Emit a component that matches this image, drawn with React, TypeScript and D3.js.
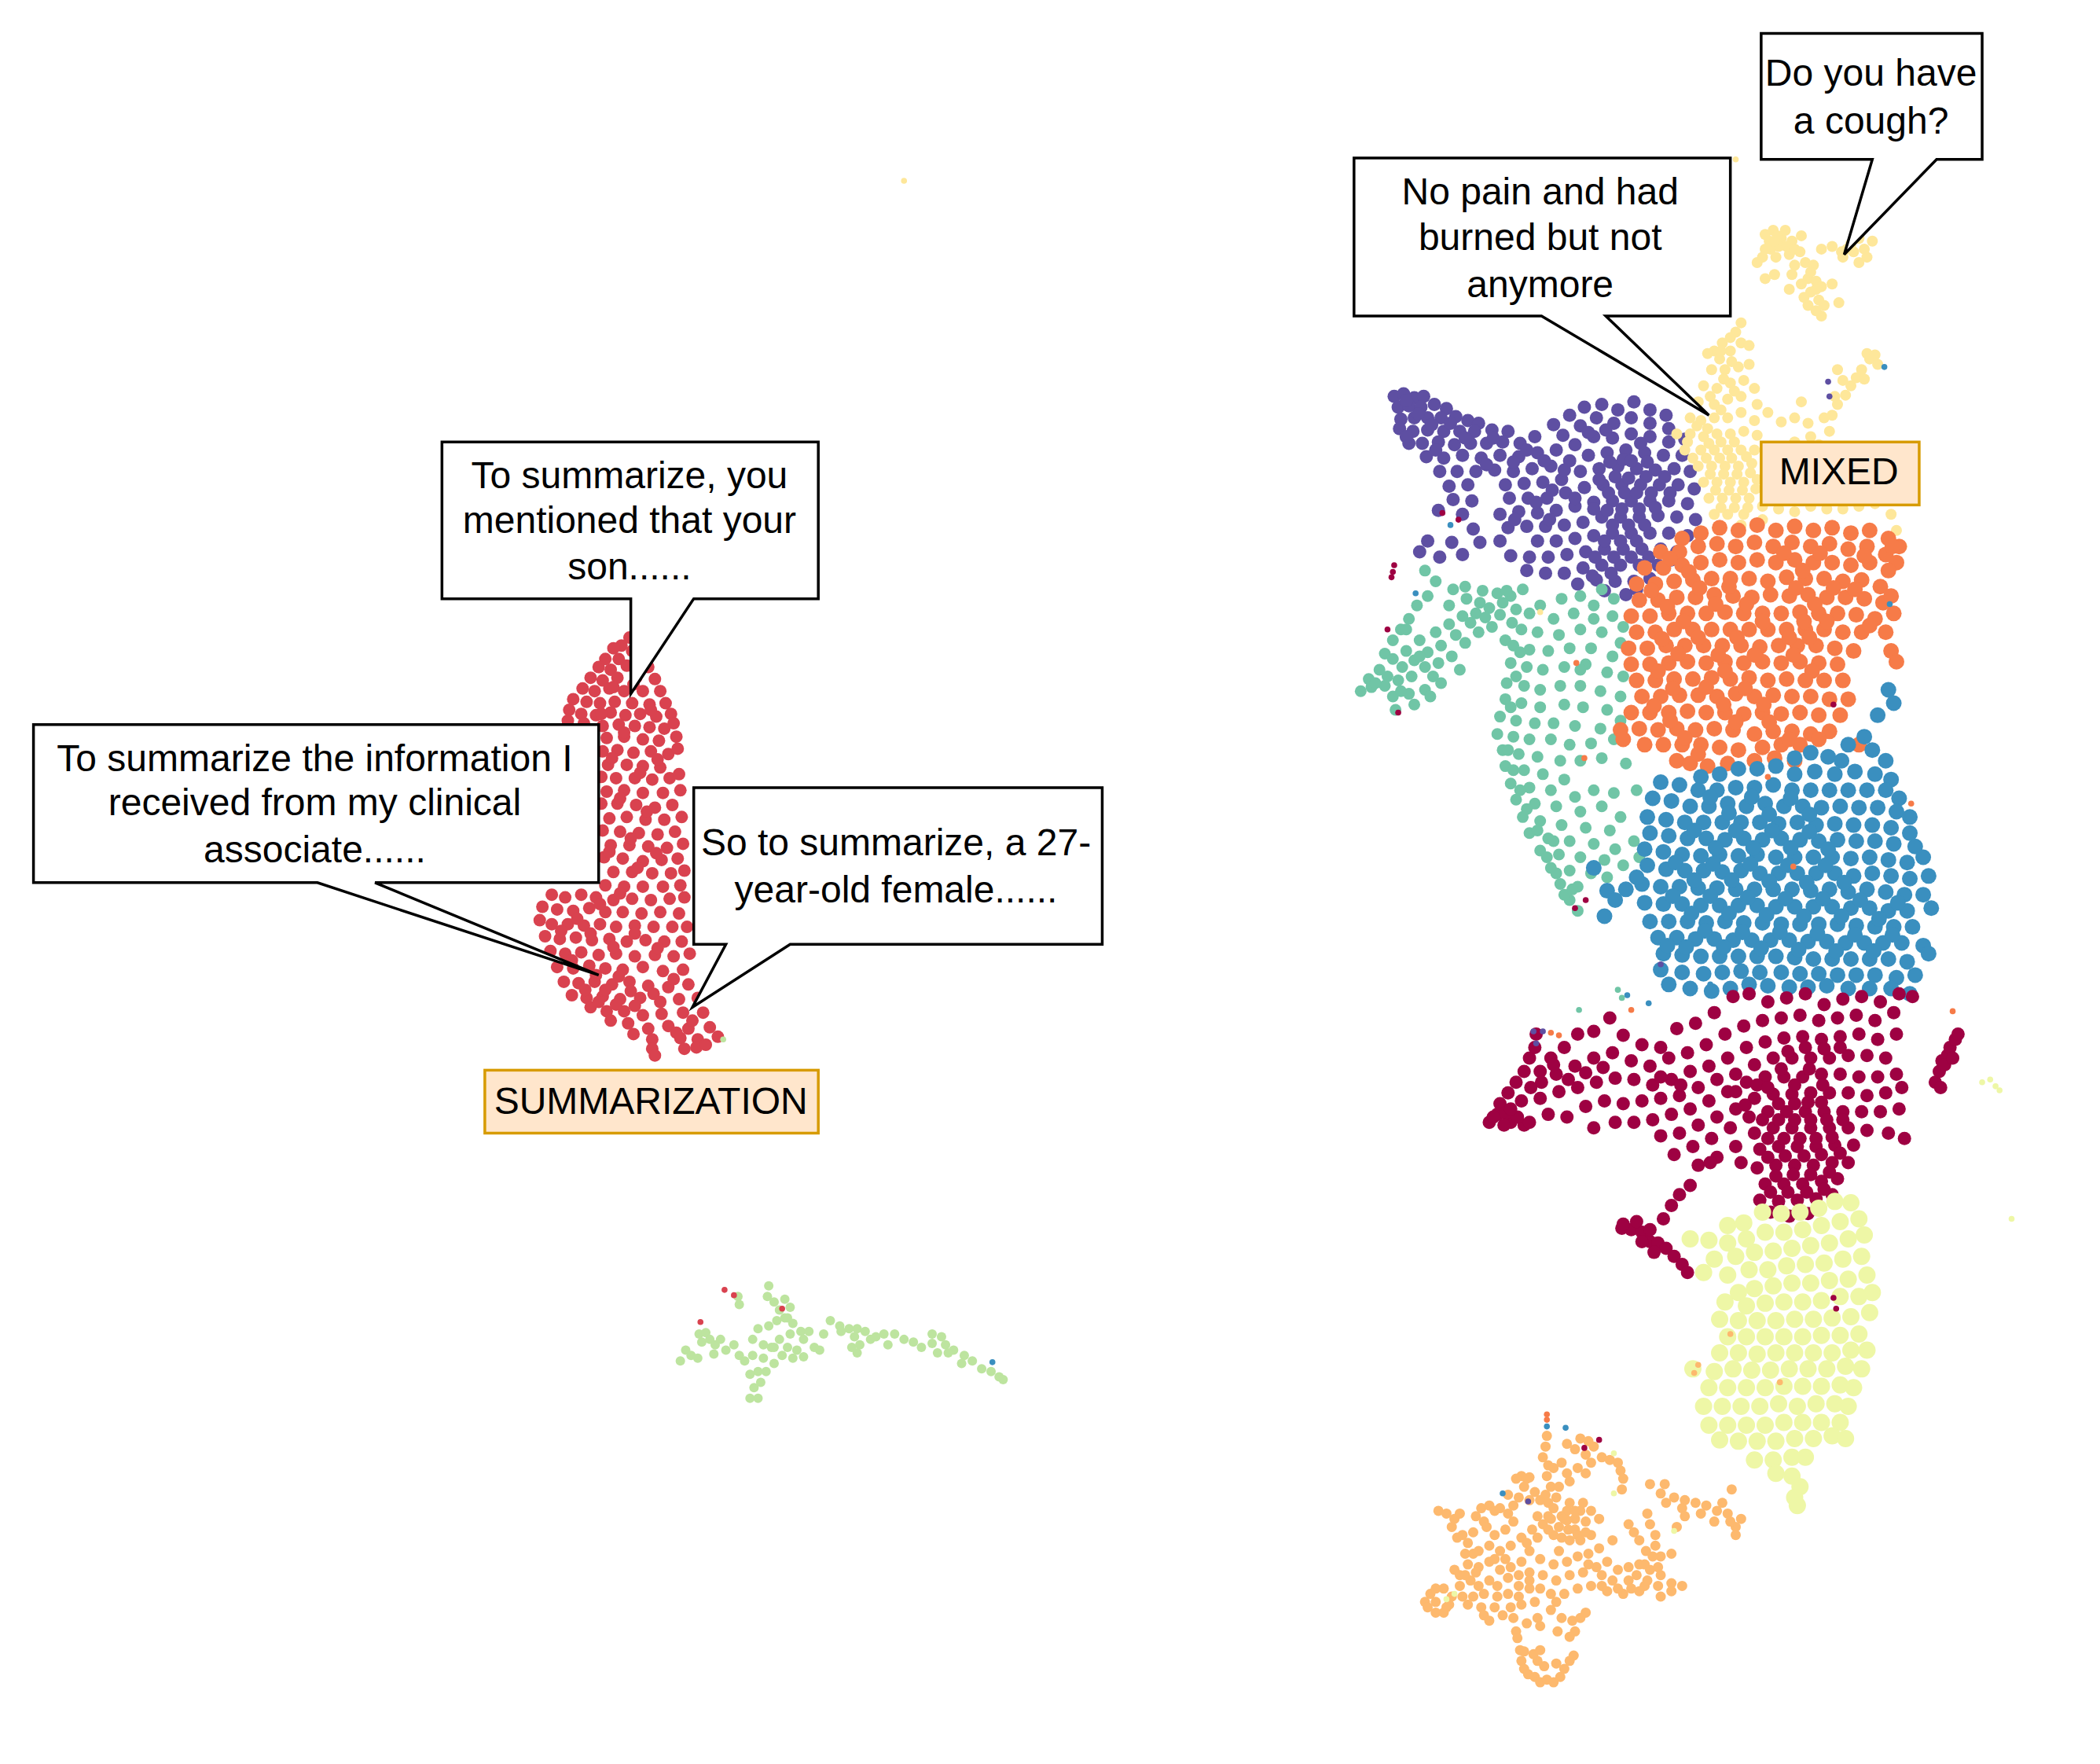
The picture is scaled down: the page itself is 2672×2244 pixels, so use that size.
import React from "react";
import * as d3 from "d3";

const W = 2672, H = 2244;
const REF_W = 1568, REF_H = 1317;

const redPoints = [[470,476],[464,482],[458,484],[472,486],[452,492],[462,492],[478,490],[447,498],[456,500],[468,497],[484,498],[441,506],[450,508],[461,506],[475,506],[489,507],[435,514],[444,516],[455,514],[466,516],[480,516],[493,516],[428,522],[438,524],[448,525],[459,524],[472,525],[485,526],[497,525],[425,530],[434,533],[445,534],[456,532],[467,534],[478,533],[490,535],[501,533],[424,538],[436,540],[450,542],[462,541],[474,542],[485,543],[496,544],[503,540],[453,551],[466,550],[480,552],[492,553],[505,550],[450,561],[461,560],[473,562],[486,561],[499,563],[506,559],[454,571],[468,571],[480,572],[493,573],[449,580],[460,581],[474,581],[487,582],[500,581],[507,578],[453,591],[466,590],[480,592],[495,592],[508,590],[449,600],[461,600],[475,601],[489,603],[502,601],[455,611],[468,610],[482,612],[496,612],[509,610],[450,620],[463,621],[477,622],[491,623],[504,621],[456,631],[470,631],[484,632],[498,633],[510,630],[451,640],[465,641],[480,643],[494,642],[506,641],[458,651],[472,651],[487,652],[501,652],[511,650],[452,661],[466,662],[480,662],[495,662],[508,661],[412,668],[422,670],[434,668],[445,670],[458,672],[472,671],[486,672],[500,671],[511,670],[405,677],[416,679],[428,680],[440,678],[452,681],[465,681],[479,682],[493,681],[507,682],[403,687],[412,690],[424,690],[436,691],[448,690],[460,692],[474,691],[488,692],[502,692],[513,692],[407,699],[418,701],[430,700],[442,702],[455,701],[468,703],[482,702],[496,703],[509,703],[411,710],[422,712],[434,711],[447,713],[460,712],[474,714],[489,713],[503,714],[515,712],[416,722],[428,723],[440,721],[452,723],[465,724],[480,722],[495,725],[510,724],[421,733],[432,734],[444,733],[457,735],[470,733],[484,736],[499,737],[514,735],[427,743],[438,745],[450,744],[463,746],[478,745],[493,748],[507,746],[521,745],[441,752],[453,755],[466,755],[480,758],[494,757],[510,756],[525,756],[456,762],[469,764],[484,768],[499,766],[514,768],[530,767],[473,772],[487,776],[508,775],[521,776],[536,774],[487,783],[489,788],[511,783],[520,782],[527,780]];
const redExtra = [[458,513],[449,533],[473,511],[486,530],[466,547],[457,566],[478,577],[491,567],[463,596],[483,606],[471,626],[455,636],[476,648],[490,637],[463,667],[448,675],[431,686],[419,695],[441,697],[458,707],[474,697],[491,708],[427,717],[445,728],[462,729],[437,739],[452,739],[471,740],[447,748],[460,750],[474,751],[488,742],[503,731],[517,762],[505,771]];
const purplePoints = [[1041,296],[1048,294],[1056,297],[1063,296],[1044,304],[1052,303],[1061,304],[1071,302],[1080,305],[1046,313],[1056,312],[1066,312],[1076,312],[1087,311],[1096,314],[1104,316],[1045,320],[1055,322],[1066,321],[1078,322],[1090,322],[1101,322],[1114,321],[1126,322],[1052,331],[1062,331],[1074,330],[1086,332],[1098,331],[1110,331],[1122,330],[1135,331],[1146,326],[1160,317],[1172,310],[1183,304],[1196,302],[1208,306],[1220,300],[1232,306],[1244,310],[1167,325],[1180,318],[1192,312],[1205,316],[1218,312],[1232,316],[1246,320],[1065,341],[1078,342],[1092,340],[1106,342],[1120,340],[1134,341],[1148,338],[1162,336],[1176,332],[1190,326],[1204,327],[1218,324],[1232,326],[1246,330],[1258,328],[1075,352],[1088,352],[1102,352],[1116,351],[1130,352],[1144,350],[1158,348],[1172,344],[1186,340],[1200,338],[1214,336],[1228,338],[1242,340],[1256,340],[1082,363],[1096,362],[1124,362],[1138,361],[1152,360],[1166,358],[1180,352],[1194,350],[1208,348],[1222,350],[1236,351],[1250,350],[1262,352],[1085,373],[1099,374],[1127,372],[1141,372],[1155,372],[1169,368],[1183,364],[1197,362],[1211,362],[1225,362],[1239,362],[1253,362],[1265,365],[1074,381],[1092,384],[1120,384],[1134,382],[1148,383],[1162,381],[1176,378],[1190,375],[1204,374],[1218,374],[1232,374],[1246,374],[1260,376],[1100,395],[1126,394],[1140,393],[1154,393],[1168,392],[1182,390],[1196,386],[1210,386],[1224,386],[1238,385],[1252,386],[1266,388],[1066,404],[1084,405],[1105,405],[1120,404],[1148,404],[1162,404],[1176,402],[1190,400],[1204,398],[1218,398],[1232,398],[1246,398],[1260,400],[1060,412],[1075,416],[1092,414],[1128,415],[1142,416],[1156,416],[1170,414],[1184,412],[1198,410],[1212,410],[1226,410],[1240,410],[1252,412],[1140,426],[1154,428],[1168,428],[1182,424],[1196,422],[1210,422],[1224,422],[1238,422],[1248,418],[1178,436],[1192,433],[1206,434],[1220,434],[1232,432],[1198,441],[1214,444],[1222,440]];
const purpleExtra = [[1050,299],[1059,309],[1069,317],[1083,316],[1050,326],[1094,327],[1115,327],[1072,336],[1140,336],[1186,323],[1199,321],[1225,331],[1212,343],[1202,345],[1218,344],[1230,345],[1194,358],[1206,356],[1216,357],[1229,356],[1201,368],[1213,368],[1222,368],[1233,368],[1190,380],[1200,381],[1211,380],[1224,380],[1236,379],[1204,392],[1216,392],[1228,392],[1198,404],[1210,404],[1222,404],[1191,416],[1205,416],[1218,416],[1231,416],[1189,430],[1203,428],[1153,344],[1168,351],[1159,366],[1176,372],[1130,345],[1110,347],[1147,375],[1157,388],[1131,388],[1243,356],[1247,368]];
const tealPoints = [[1034,488],[1040,478],[1046,470],[1052,462],[1058,452],[1066,445],[1072,434],[1064,426],[1085,440],[1095,447],[1105,450],[1118,443],[1128,445],[1137,440],[1150,452],[1166,447],[1180,445],[1196,440],[1205,447],[1022,507],[1030,500],[1040,492],[1050,486],[1060,478],[1072,472],[1082,466],[1092,460],[1102,458],[1112,454],[1122,450],[1132,455],[1142,458],[1016,516],[1024,513],[1034,512],[1044,508],[1054,505],[1064,498],[1074,495],[1084,490],[1094,480],[1104,472],[1114,468],[1124,478],[1040,520],[1052,518],[1064,515],[1076,510],[1042,530],[1068,520],[1090,500],[1160,462],[1175,458],[1190,452],[1204,460],[1212,468],[1136,470],[1148,472],[1164,474],[1180,470],[1196,472],[1210,480],[1130,482],[1142,485],[1156,486],[1172,484],[1188,484],[1204,490],[1128,495],[1140,498],[1152,500],[1168,498],[1184,496],[1200,502],[1212,505],[1125,510],[1138,512],[1150,515],[1165,512],[1180,512],[1195,516],[1210,520],[1124,522],[1136,525],[1150,528],[1168,526],[1182,528],[1200,530],[1210,538],[1120,535],[1132,538],[1146,540],[1160,540],[1176,542],[1195,544],[1118,548],[1130,550],[1142,552],[1158,552],[1172,556],[1188,555],[1205,552],[1122,560],[1134,563],[1148,565],[1165,568],[1180,568],[1196,566],[1124,572],[1138,575],[1152,578],[1168,582],[1214,570],[1222,590],[1128,585],[1142,588],[1158,590],[1176,595],[1190,590],[1205,592],[1132,597],[1146,600],[1162,602],[1180,606],[1196,602],[1210,610],[1137,610],[1150,613],[1166,616],[1184,618],[1202,620],[1220,628],[1142,622],[1156,626],[1172,628],[1190,630],[1206,634],[1224,640],[1150,635],[1164,638],[1180,640],[1198,642],[1212,646],[1158,648],[1172,650],[1188,652],[1165,660],[1178,662],[1172,672],[1178,680],[1200,655]];
const tealExtra = [[1027,510],[1036,505],[1047,498],[1056,493],[1066,487],[1076,482],[1087,474],[1098,465],[1109,461],[1120,459],[1060,490],[1070,505],[1050,470],[1082,452],[1094,438],[1107,441],[1125,441],[1129,465],[1135,487],[1132,505],[1128,528],[1126,560],[1130,575],[1135,590],[1140,604],[1148,620],[1155,640],[1162,652],[1168,668],[1174,664],[1160,628],[1046,516],[1056,526],[1190,462],[1180,500]];
const orangePoints = [[1256,402],[1270,398],[1284,394],[1298,396],[1312,392],[1326,396],[1340,393],[1354,396],[1368,394],[1382,398],[1396,396],[1410,402],[1418,408],[1240,412],[1254,412],[1268,408],[1282,406],[1296,408],[1310,405],[1324,408],[1338,405],[1352,408],[1366,406],[1380,410],[1394,408],[1408,414],[1416,420],[1228,424],[1242,424],[1256,422],[1270,420],[1284,418],[1298,420],[1312,418],[1326,420],[1340,418],[1354,420],[1368,420],[1382,422],[1396,420],[1410,426],[1222,436],[1236,436],[1250,434],[1264,433],[1278,432],[1292,432],[1306,432],[1320,434],[1334,431],[1348,432],[1362,432],[1376,434],[1390,433],[1404,438],[1224,448],[1238,448],[1252,446],[1266,446],[1280,444],[1294,445],[1308,446],[1322,444],[1336,445],[1350,444],[1364,446],[1378,446],[1392,447],[1406,450],[1218,460],[1232,460],[1246,458],[1260,458],[1274,458],[1288,457],[1302,458],[1316,458],[1330,458],[1344,457],[1358,458],[1372,458],[1386,459],[1400,462],[1414,458],[1222,472],[1236,472],[1250,470],[1264,470],[1278,470],[1292,470],[1306,470],[1320,470],[1334,470],[1348,470],[1362,470],[1376,472],[1390,472],[1408,472],[1216,484],[1230,484],[1244,482],[1258,482],[1272,482],[1286,482],[1300,482],[1314,483],[1328,482],[1342,482],[1356,482],[1370,484],[1384,486],[1412,486],[1218,496],[1232,496],[1246,495],[1260,494],[1274,495],[1288,494],[1302,495],[1316,494],[1330,495],[1344,494],[1358,495],[1372,496],[1416,494],[1222,508],[1236,508],[1250,507],[1264,507],[1278,506],[1292,507],[1306,506],[1320,508],[1334,507],[1348,508],[1362,508],[1376,508],[1226,520],[1240,520],[1254,519],[1268,519],[1282,520],[1296,518],[1310,520],[1324,519],[1338,520],[1352,520],[1366,522],[1380,522],[1218,532],[1232,532],[1246,532],[1260,531],[1274,532],[1288,532],[1302,533],[1316,532],[1330,533],[1344,532],[1358,534],[1374,534],[1210,545],[1224,544],[1238,545],[1252,544],[1266,545],[1280,544],[1294,545],[1310,548],[1324,546],[1338,546],[1352,548],[1366,546],[1212,552],[1228,556],[1242,556],[1256,556],[1270,556],[1284,558],[1298,560],[1316,558],[1330,556],[1344,556],[1358,552],[1252,568],[1262,570],[1275,572],[1290,570],[1310,568],[1325,566],[1340,568],[1388,556]];
const orangeExtra = [[1247,417],[1261,427],[1233,441],[1245,453],[1257,464],[1241,477],[1253,488],[1238,501],[1249,514],[1235,527],[1247,538],[1258,551],[1332,413],[1346,426],[1359,413],[1341,439],[1355,451],[1369,439],[1347,464],[1336,476],[1351,476],[1364,464],[1339,489],[1353,501],[1291,438],[1304,451],[1316,464],[1297,476],[1310,489],[1288,501],[1303,514],[1317,526],[1296,539],[1269,439],[1281,451],[1268,476],[1283,489],[1274,513],[1287,526],[1392,415],[1385,440],[1396,467],[1412,445],[1413,408],[1321,539],[1336,552],[1268,563]];
const bluePoints = [[1392,550],[1402,534],[1410,515],[1414,525],[1380,556],[1398,560],[1408,568],[1340,566],[1352,562],[1365,565],[1375,568],[1270,580],[1284,578],[1298,574],[1312,574],[1326,572],[1340,578],[1355,576],[1370,578],[1385,576],[1400,578],[1412,582],[1240,584],[1254,586],[1268,590],[1282,590],[1296,588],[1310,588],[1324,586],[1338,590],[1352,590],[1366,590],[1380,590],[1394,590],[1408,590],[1418,596],[1234,596],[1248,598],[1262,602],[1276,602],[1290,600],[1304,602],[1318,600],[1332,602],[1346,602],[1360,603],[1374,602],[1388,603],[1402,603],[1416,606],[1426,610],[1230,610],[1244,612],[1258,614],[1272,614],[1286,614],[1300,614],[1314,614],[1328,615],[1342,614],[1356,616],[1370,615],[1384,616],[1398,616],[1412,618],[1426,622],[1232,622],[1246,624],[1260,626],[1274,626],[1288,627],[1302,626],[1316,627],[1330,626],[1344,627],[1358,628],[1372,627],[1386,628],[1400,628],[1414,630],[1430,632],[1228,634],[1242,636],[1256,638],[1270,639],[1284,638],[1298,639],[1312,638],[1326,640],[1340,640],[1354,640],[1368,640],[1382,641],[1396,640],[1410,642],[1424,644],[1436,640],[1230,646],[1244,649],[1258,650],[1272,650],[1286,651],[1300,650],[1314,652],[1328,652],[1342,652],[1356,652],[1370,652],[1384,654],[1398,652],[1412,654],[1426,656],[1440,654],[1226,660],[1240,662],[1254,662],[1268,663],[1282,663],[1296,664],[1310,664],[1324,664],[1338,664],[1352,665],[1366,664],[1380,666],[1394,664],[1408,666],[1422,668],[1436,668],[1228,674],[1242,675],[1256,675],[1270,676],[1284,676],[1298,676],[1312,676],[1326,677],[1340,677],[1354,677],[1368,677],[1382,678],[1396,678],[1410,680],[1424,680],[1442,678],[1232,688],[1246,688],[1260,688],[1274,689],[1288,688],[1302,689],[1316,689],[1330,690],[1344,690],[1358,690],[1372,690],[1386,691],[1400,692],[1414,692],[1428,692],[1238,700],[1252,700],[1266,701],[1280,701],[1294,702],[1308,702],[1322,702],[1336,702],[1350,703],[1364,703],[1378,704],[1392,704],[1406,704],[1420,704],[1436,706],[1242,712],[1256,713],[1270,714],[1284,714],[1298,714],[1312,714],[1326,714],[1340,715],[1354,716],[1368,716],[1382,716],[1396,716],[1410,716],[1424,718],[1440,712],[1240,724],[1256,726],[1272,727],[1286,726],[1300,725],[1314,726],[1330,726],[1344,727],[1358,727],[1372,728],[1386,728],[1400,728],[1416,730],[1430,728],[1246,735],[1262,738],[1278,740],[1292,738],[1306,735],[1320,736],[1336,737],[1350,737],[1364,736],[1380,738],[1396,738],[1412,738],[1426,742],[1200,665],[1206,672],[1214,664],[1222,655],[1190,648],[1198,684]];
const blueExtra = [[1277,595],[1291,607],[1308,595],[1321,608],[1337,596],[1351,608],[1265,620],[1281,633],[1296,620],[1309,633],[1323,620],[1337,633],[1351,621],[1365,634],[1251,644],[1265,657],[1279,645],[1293,657],[1307,645],[1321,658],[1335,646],[1349,659],[1363,646],[1377,659],[1249,669],[1263,682],[1277,669],[1291,682],[1305,670],[1319,683],[1333,671],[1347,684],[1361,671],[1375,684],[1389,672],[1403,686],[1417,674],[1245,706],[1259,707],[1273,695],[1287,707],[1301,696],[1315,708],[1329,696],[1343,709],[1357,697],[1371,710],[1385,698],[1399,710],[1413,698]];
const maroonPoints = [[1112,838],[1118,832],[1128,838],[1138,840],[1120,824],[1126,816],[1132,808],[1138,800],[1142,790],[1146,782],[1147,772],[1158,790],[1168,782],[1178,772],[1190,770],[1202,760],[1212,773],[1226,780],[1240,782],[1252,768],[1266,764],[1280,756],[1294,744],[1306,742],[1320,748],[1334,745],[1348,742],[1362,750],[1376,746],[1390,744],[1404,748],[1418,742],[1428,744],[1150,800],[1162,802],[1176,796],[1190,790],[1204,786],[1218,792],[1232,796],[1246,790],[1260,786],[1274,780],[1288,772],[1302,766],[1316,762],[1330,760],[1344,758],[1358,762],[1372,760],[1386,758],[1400,762],[1414,756],[1150,820],[1164,815],[1178,812],[1192,808],[1206,805],[1220,806],[1234,810],[1248,806],[1262,800],[1276,796],[1290,790],[1304,782],[1318,778],[1332,775],[1346,774],[1360,776],[1374,774],[1388,772],[1402,776],[1416,772],[1142,838],[1156,832],[1170,834],[1184,826],[1198,822],[1212,824],[1226,822],[1240,820],[1254,818],[1268,812],[1282,806],[1296,802],[1310,795],[1324,790],[1338,790],[1352,790],[1366,790],[1380,788],[1394,788],[1408,790],[1190,842],[1206,838],[1220,838],[1234,836],[1248,832],[1262,828],[1276,822],[1290,815],[1304,808],[1318,804],[1332,804],[1346,804],[1360,802],[1374,802],[1388,804],[1402,804],[1416,802],[1240,848],[1254,846],[1268,840],[1282,834],[1296,828],[1310,820],[1324,817],[1338,817],[1352,816],[1366,816],[1380,816],[1394,818],[1408,816],[1420,812],[1250,862],[1264,856],[1278,850],[1292,842],[1306,834],[1320,830],[1334,830],[1348,830],[1362,830],[1376,830],[1390,830],[1404,830],[1418,828],[1268,870],[1282,864],[1296,856],[1310,846],[1324,842],[1338,842],[1352,842],[1366,842],[1380,842],[1394,844],[1410,846],[1422,850],[1300,868],[1314,858],[1328,856],[1342,856],[1356,856],[1370,855],[1384,855],[1312,872],[1326,870],[1340,870],[1354,870],[1368,868],[1380,868],[1318,884],[1332,884],[1346,884],[1360,882],[1372,880],[1314,896],[1328,897],[1342,896],[1356,895],[1368,892],[1322,905],[1336,908],[1350,906],[1211,917],[1218,918],[1226,920],[1232,927],[1238,928],[1244,932],[1250,938],[1256,944],[1260,950],[1232,918],[1242,910],[1248,900],[1254,892],[1262,885],[1277,868],[1445,808],[1448,800],[1450,792],[1454,788],[1456,782],[1460,776],[1462,772],[1449,812],[1452,795],[1458,790]];
const maroonExtra = [[1115,834],[1124,831],[1133,834],[1123,840],[1151,808],[1143,812],[1136,822],[1128,828],[1160,795],[1171,806],[1184,801],[1197,797],[1312,810],[1320,812],[1330,798],[1340,810],[1351,798],[1361,810],[1328,824],[1340,824],[1350,823],[1360,823],[1316,836],[1328,836],[1340,836],[1352,836],[1364,836],[1376,836],[1320,850],[1332,850],[1344,850],[1356,850],[1368,849],[1320,864],[1333,863],[1347,863],[1360,862],[1374,861],[1326,878],[1339,877],[1352,877],[1366,875],[1322,890],[1335,890],[1349,890],[1362,888],[1335,785],[1348,782],[1362,783],[1374,782],[1296,815],[1303,825],[1240,804],[1255,810],[1212,914],[1222,912],[1226,927],[1235,935]];
const yellowPoints = [[1318,175],[1324,172],[1330,178],[1328,184],[1322,186],[1333,172],[1338,180],[1345,176],[1316,192],[1312,196],[1326,192],[1336,190],[1344,188],[1340,198],[1348,196],[1354,198],[1360,186],[1368,184],[1375,188],[1382,182],[1388,178],[1384,188],[1392,186],[1398,180],[1394,192],[1388,196],[1350,208],[1356,210],[1360,214],[1345,212],[1352,218],[1358,224],[1362,228],[1368,212],[1373,226],[1360,236],[1338,205],[1325,205],[1318,208],[1350,228],[1356,232],[1347,222],[1336,216],[1300,241],[1296,248],[1292,252],[1286,256],[1280,262],[1275,264],[1284,268],[1292,262],[1300,256],[1306,258],[1278,276],[1288,276],[1298,274],[1306,272],[1272,288],[1282,290],[1292,286],[1302,284],[1310,290],[1268,300],[1280,302],[1290,298],[1300,296],[1312,302],[1262,312],[1270,314],[1280,312],[1290,312],[1300,308],[1310,314],[1320,308],[1330,315],[1340,312],[1252,324],[1262,324],[1272,326],[1282,324],[1292,324],[1302,322],[1312,325],[1258,336],[1270,336],[1280,336],[1290,336],[1300,336],[1310,336],[1268,348],[1278,348],[1288,348],[1298,348],[1308,346],[1272,360],[1282,360],[1292,360],[1302,360],[1312,358],[1276,372],[1286,372],[1296,372],[1306,372],[1316,378],[1328,380],[1340,382],[1352,378],[1364,380],[1376,380],[1388,378],[1400,376],[1408,370],[1412,384],[1416,396],[1420,408],[1290,384],[1302,384],[1280,384],[1300,392],[1316,388],[1342,342],[1350,338],[1358,332],[1366,322],[1368,310],[1372,302],[1378,295],[1382,288],[1386,282],[1390,276],[1396,268],[1402,272],[1394,264],[1376,284],[1370,296],[1362,312],[1352,326],[1340,330],[1350,316],[1345,300],[1372,276],[1400,265],[1392,283]];
const yellowExtra = [[1321,180],[1327,176],[1334,184],[1318,186],[1325,180],[1340,186],[1379,186],[1376,192],[1352,203],[1356,216],[1285,262],[1293,270],[1287,283],[1277,296],[1295,292],[1285,306],[1275,320],[1267,318],[1260,330],[1276,331],[1285,330],[1295,330],[1264,342],[1274,342],[1284,342],[1293,342],[1304,341],[1277,354],[1287,354],[1297,354],[1307,353],[1281,366],[1291,366],[1301,366],[1311,365],[1285,379],[1295,379],[1305,379]];
const limePoints = [[1290,915],[1302,913],[1316,905],[1330,906],[1344,905],[1358,902],[1370,897],[1382,898],[1262,925],[1276,926],[1290,928],[1304,925],[1318,920],[1332,920],[1346,918],[1360,915],[1374,912],[1388,910],[1280,940],[1296,938],[1310,935],[1324,934],[1338,932],[1352,930],[1366,928],[1380,925],[1392,922],[1272,950],[1290,952],[1306,948],[1320,948],[1334,945],[1348,944],[1362,943],[1376,940],[1390,938],[1298,965],[1310,962],[1324,960],[1338,958],[1352,958],[1366,956],[1380,955],[1394,952],[1288,972],[1304,975],[1318,973],[1332,972],[1346,972],[1360,971],[1374,968],[1388,968],[1398,965],[1284,985],[1298,986],[1312,986],[1326,986],[1340,985],[1354,985],[1368,984],[1382,983],[1396,980],[1290,998],[1304,998],[1318,998],[1332,998],[1346,998],[1360,997],[1374,997],[1388,996],[1284,1010],[1298,1010],[1312,1011],[1326,1010],[1340,1010],[1354,1010],[1368,1010],[1382,1008],[1394,1008],[1264,1022],[1280,1024],[1294,1022],[1308,1023],[1322,1023],[1336,1022],[1350,1022],[1364,1022],[1378,1020],[1390,1022],[1276,1036],[1290,1036],[1304,1036],[1318,1036],[1332,1035],[1346,1035],[1360,1035],[1374,1034],[1384,1036],[1272,1050],[1286,1050],[1300,1050],[1314,1050],[1328,1048],[1342,1050],[1356,1048],[1370,1048],[1380,1050],[1276,1064],[1290,1064],[1304,1064],[1318,1064],[1332,1062],[1346,1062],[1360,1062],[1374,1062],[1284,1075],[1298,1076],[1312,1076],[1326,1076],[1340,1074],[1354,1074],[1368,1072],[1378,1074],[1310,1090],[1324,1090],[1338,1088],[1348,1088],[1326,1100],[1338,1102],[1344,1110],[1340,1118],[1342,1124]];
const limeStray = [[1480,808],[1486,806],[1490,811],[1493,814],[1502,910]];
const lightOrangePoints = [[1155,1072],[1154,1080],[1152,1088],[1156,1094],[1155,1102],[1160,1096],[1158,1110],[1162,1118],[1160,1126],[1158,1134],[1164,1140],[1170,1078],[1176,1082],[1166,1092],[1180,1074],[1186,1076],[1190,1080],[1184,1086],[1188,1092],[1196,1088],[1202,1090],[1208,1092],[1210,1098],[1212,1104],[1211,1112],[1170,1100],[1178,1096],[1184,1100],[1172,1106],[1142,1103],[1140,1104],[1136,1102],[1138,1110],[1146,1114],[1132,1104],[1150,1120],[1126,1116],[1134,1118],[1142,1120],[1130,1124],[1148,1132],[1156,1132],[1170,1128],[1172,1122],[1166,1132],[1074,1128],[1080,1130],[1086,1134],[1090,1130],[1084,1140],[1092,1146],[1100,1144],[1096,1152],[1088,1148],[1106,1126],[1102,1132],[1112,1124],[1116,1128],[1108,1136],[1120,1126],[1126,1130],[1130,1136],[1124,1142],[1116,1146],[1110,1140],[1104,1158],[1112,1154],[1100,1160],[1096,1168],[1090,1176],[1094,1160],[1104,1170],[1112,1166],[1120,1158],[1128,1154],[1136,1148],[1144,1142],[1152,1138],[1160,1146],[1168,1134],[1176,1134],[1176,1142],[1184,1136],[1180,1128],[1188,1128],[1172,1150],[1164,1158],[1180,1150],[1188,1146],[1194,1134],[1204,1150],[1216,1138],[1186,1160],[1194,1156],[1178,1162],[1170,1166],[1160,1168],[1150,1164],[1142,1158],[1136,1166],[1128,1170],[1120,1172],[1112,1180],[1104,1184],[1098,1180],[1090,1184],[1086,1172],[1092,1192],[1100,1192],[1108,1190],[1118,1184],[1126,1178],[1134,1176],[1142,1174],[1152,1176],[1162,1180],[1172,1176],[1182,1174],[1192,1170],[1200,1166],[1208,1172],[1216,1170],[1224,1168],[1232,1172],[1240,1176],[1228,1184],[1216,1180],[1204,1180],[1196,1184],[1188,1184],[1178,1186],[1168,1190],[1158,1190],[1150,1186],[1142,1186],[1134,1192],[1126,1190],[1118,1192],[1128,1200],[1136,1198],[1146,1196],[1162,1196],[1106,1200],[1096,1198],[1108,1206],[1116,1200],[1122,1206],[1112,1210],[1130,1208],[1140,1212],[1148,1208],[1150,1214],[1158,1202],[1166,1208],[1174,1210],[1180,1208],[1176,1218],[1184,1204],[1200,1188],[1212,1190],[1224,1188],[1238,1184],[1248,1182],[1256,1184],[1240,1192],[1248,1188],[1229,1158],[1224,1150],[1220,1144],[1232,1138],[1236,1146],[1230,1130],[1236,1154],[1248,1160],[1240,1162],[1072,1196],[1064,1196],[1068,1190],[1072,1186],[1078,1186],[1084,1192],[1072,1204],[1066,1200],[1080,1200],[1078,1204],[1082,1198],[1132,1218],[1133,1223],[1163,1218],[1172,1222],[1135,1232],[1136,1240],[1138,1246],[1141,1250],[1146,1252],[1150,1256],[1155,1254],[1160,1256],[1165,1252],[1168,1246],[1172,1240],[1175,1236],[1148,1240],[1153,1244],[1145,1235],[1162,1242],[1150,1232],[1138,1233],[1232,1108],[1240,1115],[1250,1118],[1258,1120],[1266,1122],[1274,1124],[1282,1128],[1290,1130],[1300,1134],[1296,1140],[1292,1136],[1280,1136],[1270,1130],[1256,1126],[1244,1122],[1296,1146],[1252,1140],[1258,1132],[1286,1122],[1293,1112],[1243,1108]];
const lightOrangeExtra = [[1170,1135],[1176,1128],[1182,1122],[1171,1142],[1166,1148],[1178,1146],[1184,1144],[1156,1142],[1148,1148],[1140,1152],[1222,1176],[1230,1180],[1218,1186],[1208,1186],[1196,1176],[1186,1168],[1124,1164],[1116,1164],[1094,1176],[1102,1174],[1228,1168],[1238,1170],[1234,1162],[1154,1116],[1164,1110],[1156,1122],[1142,1180],[1134,1184]];
const greenPoints = [[508,1016],[512,1008],[516,1012],[521,1014],[524,1002],[522,996],[527,995],[530,1000],[534,1004],[538,1000],[533,1011],[542,1008],[548,1004],[552,1012],[556,1016],[562,1012],[570,1014],[570,1004],[562,1000],[566,992],[574,990],[580,986],[586,984],[592,988],[598,994],[590,996],[582,1000],[578,1006],[588,1006],[600,1000],[608,1006],[612,1008],[604,994],[600,1013],[595,1008],[560,1026],[566,1024],[572,1024],[578,1018],[563,1036],[568,1032],[560,1044],[566,1044],[576,1006],[584,1012],[592,1014],[578,972],[586,970],[590,976],[582,978],[588,984],[574,960],[573,968],[551,968],[552,974],[620,986],[627,990],[615,996],[628,994],[634,992],[640,992],[646,994],[638,998],[650,1000],[642,1004],[636,1006],[640,1010],[654,998],[660,996],[663,1004],[668,996],[675,1000],[682,1002],[688,1006],[696,1003],[696,996],[703,998],[706,1004],[712,1008],[708,1010],[720,1012],[726,1016],[733,1022],[740,1024],[746,1028],[749,1030],[718,1018],[700,1010]];

const strayPoints = [
  ["yellow",675,135],["yellow",1296,119],["yellow",1150,457],
  ["green",540,776],
  ["maroon",1041,422],["maroon",1040,427],["maroon",1039,431],["maroon",1036,470],["maroon",1044,532],["maroon",1176,678],["maroon",1184,672],["maroon",1369,526],["maroon",1369,969],["maroon",1371,977],["maroon",1077,383],["maroon",1089,388],["maroon",1183,1081],["maroon",1194,1075],
  ["blue",1407,274],["blue",1083,392],["blue",1057,443],["blue",1411,451],["blue",1122,1115],["blue",1155,1065],["blue",1169,1066],["blue",1215,743],["blue",1231,749],["blue",741,1017],["blue",1277,735],
  ["purple",1365,285],["purple",1366,296],["purple",1145,770],["purple",1152,770],["purple",1147,779],["purple",1141,1121],["purple",1240,720],
  ["orange",1177,495],["orange",1183,566],["orange",1339,647],["orange",1158,771],["orange",1164,773],["orange",1218,754],["orange",1458,755],["orange",1155,1056],["orange",1155,1060],["orange",1427,600],["orange",1320,580],
  ["teal",1208,739],["teal",1211,745],["teal",1179,754],
  ["lightOrange",1292,996],["lightOrange",1265,1025],["lightOrange",1268,1019],["lightOrange",1329,1032],
  ["red",541,963],["red",548,967],["red",523,987],["red",584,977],
  ["lime",1086,1190],["lime",1080,1194],["lime",1205,1115],["lime",1250,1143],["lime",1205,1085],
  ...limeStray.map(p => ["lime", p[0], p[1]]),
];

const palette = { purple:"#5e4fa2", teal:"#70c5a6", blue:"#3a8fbf", orange:"#f67b48", maroon:"#9e0142", yellow:"#fee79a", lime:"#eef7a6", lightOrange:"#fdb96e", green:"#bde49f", red:"#d9424f" };

const clusters = [
  { key:"purple", points:[...purplePoints,...purpleExtra], r:8.5 },
  { key:"yellow", points:[...yellowPoints,...yellowExtra], r:7 },
  { key:"teal", points:[...tealPoints,...tealExtra], r:7.5 },
  { key:"orange", points:[...orangePoints,...orangeExtra], r:10 },
  { key:"blue", points:[...bluePoints,...blueExtra], r:10 },
  { key:"maroon", points:[...maroonPoints,...maroonExtra], r:8.5 },
  { key:"lime", points:limePoints, r:11 },
  { key:"lightOrange", points:[...lightOrangePoints,...lightOrangeExtra], r:6.5 },
  { key:"green", points:greenPoints, r:6 },
  { key:"red", points:[...redPoints,...redExtra], r:8 },
];

const callouts = [
  { lines:["Do you have","a cough?"], ys:[54,90], cx:1397, box:[1315,25,1480,119], tail:[[1398,119],[1377,190],[1446,119]] },
  { lines:["No pain and had","burned but not","anymore"], ys:[143,177,212], cx:1150, box:[1011,118,1292,236], tail:[[1151,236],[1276,310],[1199,236]] },
  { lines:["To summarize, you","mentioned that your","son......"], ys:[355,388,423], cx:470, box:[330,330,611,447], tail:[[471,447],[471,518],[518,447]] },
  { lines:["To summarize the information I","received from my clinical","associate......"], ys:[566,599,634], cx:235, box:[25,541,447,659], tail:[[237,659],[447,728],[280,659]] },
  { lines:["So to summarize, a 27-","year-old female......"], ys:[629,664], cx:669, box:[518,588,823,705], tail:[[542,705],[517,752],[590,705]] },
];
const tags = [
  { text:"MIXED", box:[1315,330,1433,377], cx:1373, cy:352 },
  { text:"SUMMARIZATION", box:[362,799,611,846], cx:486, cy:822 },
];

const FONT = "'Liberation Sans', Arial, sans-serif";
const FONT_SIZE = 48;
const x = d3.scaleLinear().domain([0, REF_W]).range([0, W]);
const y = d3.scaleLinear().domain([0, REF_H]).range([0, H]);

function calloutPath(c: any) {
  const [x0, y0, x1, y1] = c.box;
  const pts = [[x0,y0],[x1,y0],[x1,y1],c.tail[2],c.tail[1],c.tail[0],[x0,y1]];
  return d3.line<number[]>().x(d => x(d[0])).y(d => y(d[1])).curve(d3.curveLinearClosed)(pts) as string;
}

export default function App() {
  return (
    <svg width={W} height={H} viewBox={`0 0 ${W} ${H}`} style={{ position:"absolute", left:0, top:0, background:"#fff" }}>
      {clusters.map(c => (
        <g key={c.key} fill={(palette as any)[c.key]}>
          {c.points.map((p, i) => <circle key={i} cx={x(p[0])} cy={y(p[1])} r={c.r} />)}
        </g>
      ))}
      {strayPoints.map((p: any, i) => <circle key={i} cx={x(p[1])} cy={y(p[2])} r={3.8} fill={(palette as any)[p[0]]} />)}
      {callouts.map((c, i) => (
        <g key={i}>
          <path d={calloutPath(c)} fill="#fff" stroke="#000" strokeWidth={3.5} strokeLinejoin="miter" />
          {c.lines.map((t, j) => (
            <text key={j} x={x(c.cx)} y={y(c.ys[j])} textAnchor="middle" dominantBaseline="central" fontFamily={FONT} fontSize={FONT_SIZE} fill="#000">{t}</text>
          ))}
        </g>
      ))}
      {tags.map((t, i) => (
        <g key={i}>
          <rect x={x(t.box[0])} y={y(t.box[1])} width={x(t.box[2]) - x(t.box[0])} height={y(t.box[3]) - y(t.box[1])} fill="#ffe6cc" stroke="#d79b00" strokeWidth={3.5} />
          <text x={x(t.cx)} y={y(t.cy)} textAnchor="middle" dominantBaseline="central" fontFamily={FONT} fontSize={FONT_SIZE} fill="#000">{t.text}</text>
        </g>
      ))}
    </svg>
  );
}
